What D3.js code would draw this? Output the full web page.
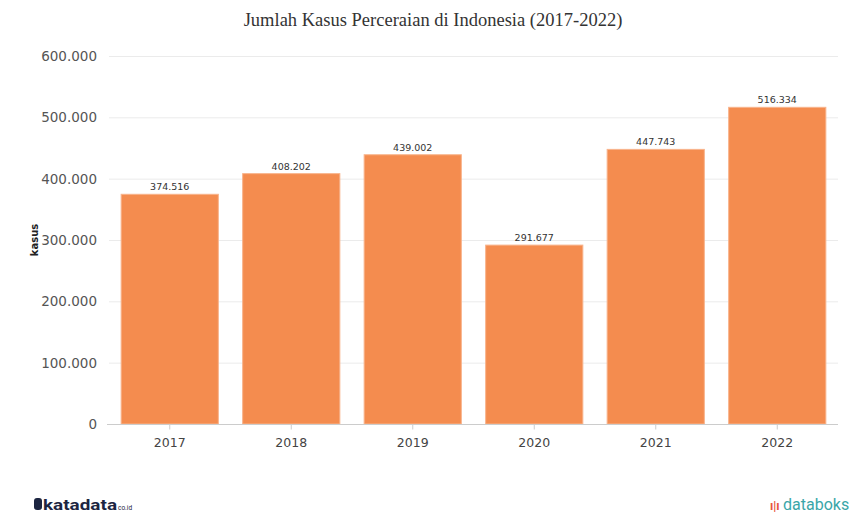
<!DOCTYPE html>
<html><head><meta charset="utf-8">
<script src="https://cdn.jsdelivr.net/npm/d3@7"></script>
<style>body{margin:0;background:#fff}svg{display:block}</style>
</head><body>
<script>
const categories = ["2017","2018","2019","2020","2021","2022"];
const values = [374516, 408202, 439002, 291677, 447743, 516334];
const yTicks = [0,100000,200000,300000,400000,500000,600000];
const title = "Jumlah Kasus Perceraian di Indonesia (2017-2022)";
const yLabel = "kasus";

const W=850,H=516;
const svg=d3.select("body").append("svg").attr("width",W).attr("height",H);
const fmt = v => d3.format(",")(v).replace(/,/g,".");
const x=d3.scaleBand().domain(categories).range([109,838]).paddingInner(0.2).paddingOuter(0.1);
const y=d3.scaleLinear().domain([0,600000]).range([424,56]);

svg.append("text").attr("x",433).attr("y",26).attr("text-anchor","middle")
  .attr("font-family","Liberation Serif, Times New Roman, serif").attr("font-size",18.5).attr("fill","#333").text(title);

// grid
svg.append("g").selectAll("line").data(yTicks.slice(1)).join("line")
  .attr("x1",109).attr("x2",838).attr("y1",d=>y(d)+0.5).attr("y2",d=>y(d)+0.5)
  .attr("stroke","#ebebeb").attr("stroke-width",1);

// y labels
svg.append("g").selectAll("text").data(yTicks).join("text")
  .attr("x",97).attr("y",d=>y(d)+5).attr("text-anchor","end")
  .attr("font-family","DejaVu Sans, Verdana, sans-serif").attr("font-size",13.5).attr("fill","#555")
  .text(d=>fmt(d));

svg.append("text").attr("transform","translate(38,240) rotate(-90)").attr("text-anchor","middle")
  .attr("font-family","DejaVu Sans, Verdana, sans-serif").attr("font-size",10).attr("font-weight","bold").attr("fill","#222").text(yLabel);

// bars
svg.append("g").selectAll("rect").data(values).join("rect")
  .attr("x",(d,i)=>x(categories[i])).attr("width",x.bandwidth())
  .attr("y",d=>y(d)).attr("height",d=>y(0)-y(d))
  .attr("fill","#f48c4f").attr("stroke","#f8b48c").attr("stroke-width",1);

svg.append("g").selectAll("text").data(values).join("text")
  .attr("x",(d,i)=>x(categories[i])+x.bandwidth()/2).attr("y",d=>y(d)-4)
  .attr("text-anchor","middle").attr("font-family","DejaVu Sans, Verdana, sans-serif")
  .attr("font-size",9.5).attr("fill","#333").text(d=>fmt(d));

// x axis
const xa=d3.axisBottom(x).tickSize(5).tickSizeOuter(0);
const gx=svg.append("g").attr("transform","translate(0,424.5)").call(xa);
gx.select(".domain").attr("stroke","#ccc").attr("d","M107,0H838");
gx.selectAll(".tick line").attr("stroke","#ccc");
gx.selectAll(".tick text").attr("y",14).attr("font-family","DejaVu Sans, Verdana, sans-serif").attr("font-size",12.5).attr("fill","#444");

// footer logos
const kg=svg.append("g").attr("transform","translate(34,510)");
kg.append("rect").attr("x",0).attr("y",-12).attr("width",8).attr("height",12).attr("rx",3).attr("fill","#1c2541");
kg.append("text").attr("x",9).attr("y",0).attr("font-family","Roboto, sans-serif").attr("font-weight","bold").attr("font-size",15).attr("fill","#1c2541").attr("textLength",74).attr("lengthAdjust","spacingAndGlyphs").text("katadata");
kg.append("text").attr("x",84).attr("y",0).attr("font-family","Roboto, sans-serif").attr("font-size",6.5).attr("fill","#1c2541").text("co.id");
const dg=svg.append("g").attr("transform","translate(770,510)");
dg.append("text").attr("x",0).attr("y",0).attr("font-family","Roboto, sans-serif").attr("font-weight","bold").attr("font-size",12).attr("fill","#e8553d").text("ı|ı");
dg.append("text").attr("x",13).attr("y",0).attr("font-family","Roboto, sans-serif").attr("font-size",16).attr("fill","#3aa6a8").text("databoks");
</script>
</body></html>
